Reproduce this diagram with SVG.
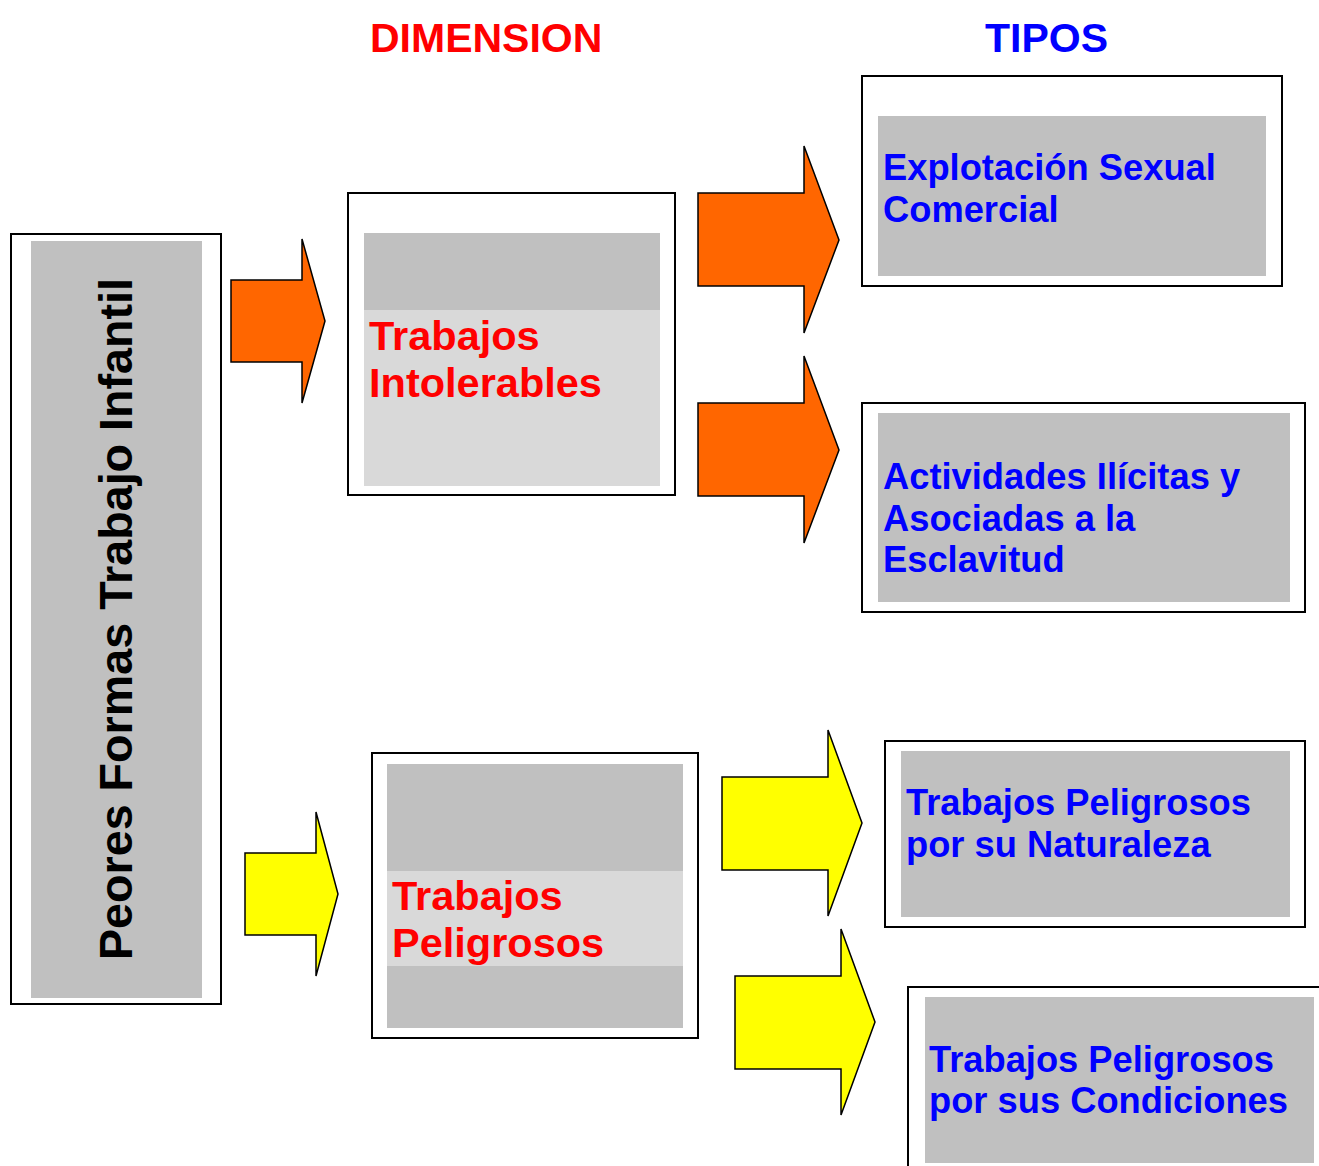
<svg xmlns="http://www.w3.org/2000/svg" width="1319" height="1166" viewBox="0 0 1319 1166">
<style>
.frame{fill:#ffffff;stroke:#000000;stroke-width:2}
.gray{fill:#c0c0c0}
.light{fill:#d9d9d9}
.orange{fill:#ff6600;stroke:#000000;stroke-width:1.5;stroke-linejoin:miter}
.yellow{fill:#ffff00;stroke:#000000;stroke-width:1.5;stroke-linejoin:miter}
text{font-family:"Liberation Sans",Arial,sans-serif;font-weight:bold}
.red{fill:#ff0000;font-size:41.5px}
.blue{fill:#0000ff;font-size:36.3px}
.title{font-size:41px}
.black{fill:#000000;font-size:47px}
</style>
<rect width="1319" height="1166" fill="#ffffff"/>
<g id="titles">
<text class="title" x="370" y="52" fill="#ff0000">DIMENSION</text>
<text class="title" x="985" y="52" fill="#0000ff">TIPOS</text>
</g>
<g id="node-peores">
<rect class="frame" x="11" y="234" width="210" height="770"/>
<rect class="gray" x="31" y="241" width="171" height="757"/>
<text class="black" transform="translate(132 960) rotate(-90)" x="0" y="0" textLength="682" lengthAdjust="spacingAndGlyphs">Peores Formas Trabajo Infantil</text>
</g>
<g id="node-intolerables">
<rect class="frame" x="348" y="193" width="327" height="302"/>
<rect class="gray" x="364" y="233" width="296" height="77"/>
<rect class="light" x="364" y="310" width="296" height="176"/>
<text class="red" x="369" y="350">Trabajos</text>
<text class="red" x="369" y="397">Intolerables</text>
</g>
<g id="node-peligrosos">
<rect class="frame" x="372" y="753" width="326" height="285"/>
<rect class="gray" x="387" y="764" width="296" height="264"/>
<rect class="light" x="387" y="871" width="296" height="95"/>
<text class="red" x="392" y="910">Trabajos</text>
<text class="red" x="392" y="957">Peligrosos</text>
</g>
<g id="node-explotacion">
<rect class="frame" x="862" y="76" width="420" height="210"/>
<rect class="gray" x="878" y="116" width="388" height="160"/>
<text class="blue" x="883" y="180">Explotación Sexual</text>
<text class="blue" x="883" y="222">Comercial</text>
</g>
<g id="node-actividades">
<rect class="frame" x="862" y="403" width="443" height="209"/>
<rect class="gray" x="878" y="413" width="412" height="189"/>
<text class="blue" x="883" y="489">Actividades Ilícitas y</text>
<text class="blue" x="883" y="531">Asociadas a la</text>
<text class="blue" x="883" y="572">Esclavitud</text>
</g>
<g id="node-naturaleza">
<rect class="frame" x="885" y="741" width="420" height="186"/>
<rect class="gray" x="901" y="751" width="389" height="166"/>
<text class="blue" x="906" y="815">Trabajos Peligrosos</text>
<text class="blue" x="906" y="857">por su Naturaleza</text>
</g>
<g id="node-condiciones">
<rect class="frame" x="908" y="987" width="430" height="200"/>
<rect class="gray" x="925" y="997" width="389" height="166"/>
<text class="blue" x="929" y="1072">Trabajos Peligrosos</text>
<text class="blue" x="929" y="1113">por sus Condiciones</text>
</g>
<g id="connectors">
<polygon class="orange" points="231,280 302,280 302,239 325,321 302,403 302,362 231,362"/>
<polygon class="orange" points="698,193 804,193 804,146 839,240 804,333 804,286 698,286"/>
<polygon class="orange" points="698,403 804,403 804,356 839,450 804,543 804,496 698,496"/>
<polygon class="yellow" points="245,853 316,853 316,812 338,894 316,976 316,935 245,935"/>
<polygon class="yellow" points="722,777 828,777 828,730 862,823 828,916 828,870 722,870"/>
<polygon class="yellow" points="735,976 841,976 841,929 875,1022 841,1115 841,1069 735,1069"/>
</g>
</svg>
